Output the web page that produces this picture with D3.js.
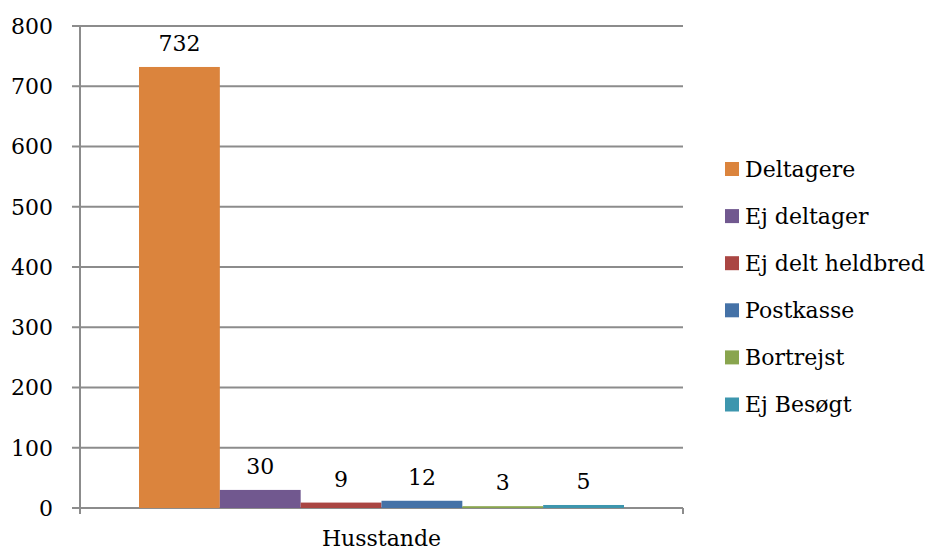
<!DOCTYPE html>
<html><head><meta charset="utf-8">
<script src="https://cdn.jsdelivr.net/npm/d3@7/dist/d3.min.js"></script>
<style>body{margin:0;background:#fff}svg{display:block}text{font-family:"DejaVu Serif",serif;fill:#000}</style>
</head><body><svg width="930" height="551"></svg>
<script>
const category = "Husstande";
const series = ["Deltagere","Ej deltager","Ej delt heldbred","Postkasse","Bortrejst","Ej Besøgt"];
const values = [732,30,9,12,3,5];
const colors = ["#DB843D","#71588F","#AA4643","#4572A7","#89A54E","#3D96AE"];
const yTicks = [0,100,200,300,400,500,600,700,800];

const svg = d3.select("svg");
const m = {left:80, right:683, top:26, bottom:508};
const y = d3.scaleLinear().domain([0,800]).range([m.bottom,m.top]);
const x0 = d3.scaleBand().domain([category]).range([m.left,m.right]);
const gapFrac = 1.46/(series.length+1.46);
const x1 = d3.scaleBand().domain(series)
  .range([x0(category)+x0.bandwidth()*gapFrac/2, x0(category)+x0.bandwidth()*(1-gapFrac/2)]).padding(0);

svg.append("g").selectAll("line").data(yTicks).join("line")
  .attr("x1",72).attr("x2",m.right).attr("y1",d=>y(d)).attr("y2",d=>y(d))
  .attr("stroke","#8c8c8c").attr("stroke-width",2);
svg.append("line").attr("x1",m.left).attr("x2",m.left).attr("y1",m.top).attr("y2",m.bottom+6)
  .attr("stroke","#8c8c8c").attr("stroke-width",2);
svg.append("line").attr("x1",m.right).attr("x2",m.right).attr("y1",m.bottom).attr("y2",m.bottom+6)
  .attr("stroke","#8c8c8c").attr("stroke-width",2);
svg.append("g").selectAll("text").data(yTicks).join("text")
  .attr("x",53).attr("y",d=>y(d)).attr("dy","0.36em").attr("text-anchor","end")
  .attr("font-size",22).text(d=>d);
svg.append("g").selectAll("rect").data(series).join("rect")
  .attr("x",d=>x1(d)).attr("width",x1.bandwidth())
  .attr("y",(d,i)=>y(values[i])).attr("height",(d,i)=>y(0)-y(values[i]))
  .attr("fill",(d,i)=>colors[i]);
svg.append("g").selectAll("text").data(series).join("text")
  .attr("x",d=>x1(d)+x1.bandwidth()/2).attr("y",(d,i)=>y(values[i])-16)
  .attr("text-anchor","middle").attr("font-size",22).text((d,i)=>values[i]);
svg.append("text").attr("x",(m.left+m.right)/2).attr("y",546).attr("text-anchor","middle")
  .attr("font-size",22).text(category);
const lg = svg.append("g").selectAll("g").data(series).join("g")
  .attr("transform",(d,i)=>`translate(725,${169+i*47.1})`);
lg.append("rect").attr("x",0).attr("y",-7).attr("width",14).attr("height",14).attr("fill",(d,i)=>colors[i]);
lg.append("text").attr("x",20).attr("y",0).attr("dy","0.36em").attr("font-size",22).text(d=>d);
</script></body></html>
